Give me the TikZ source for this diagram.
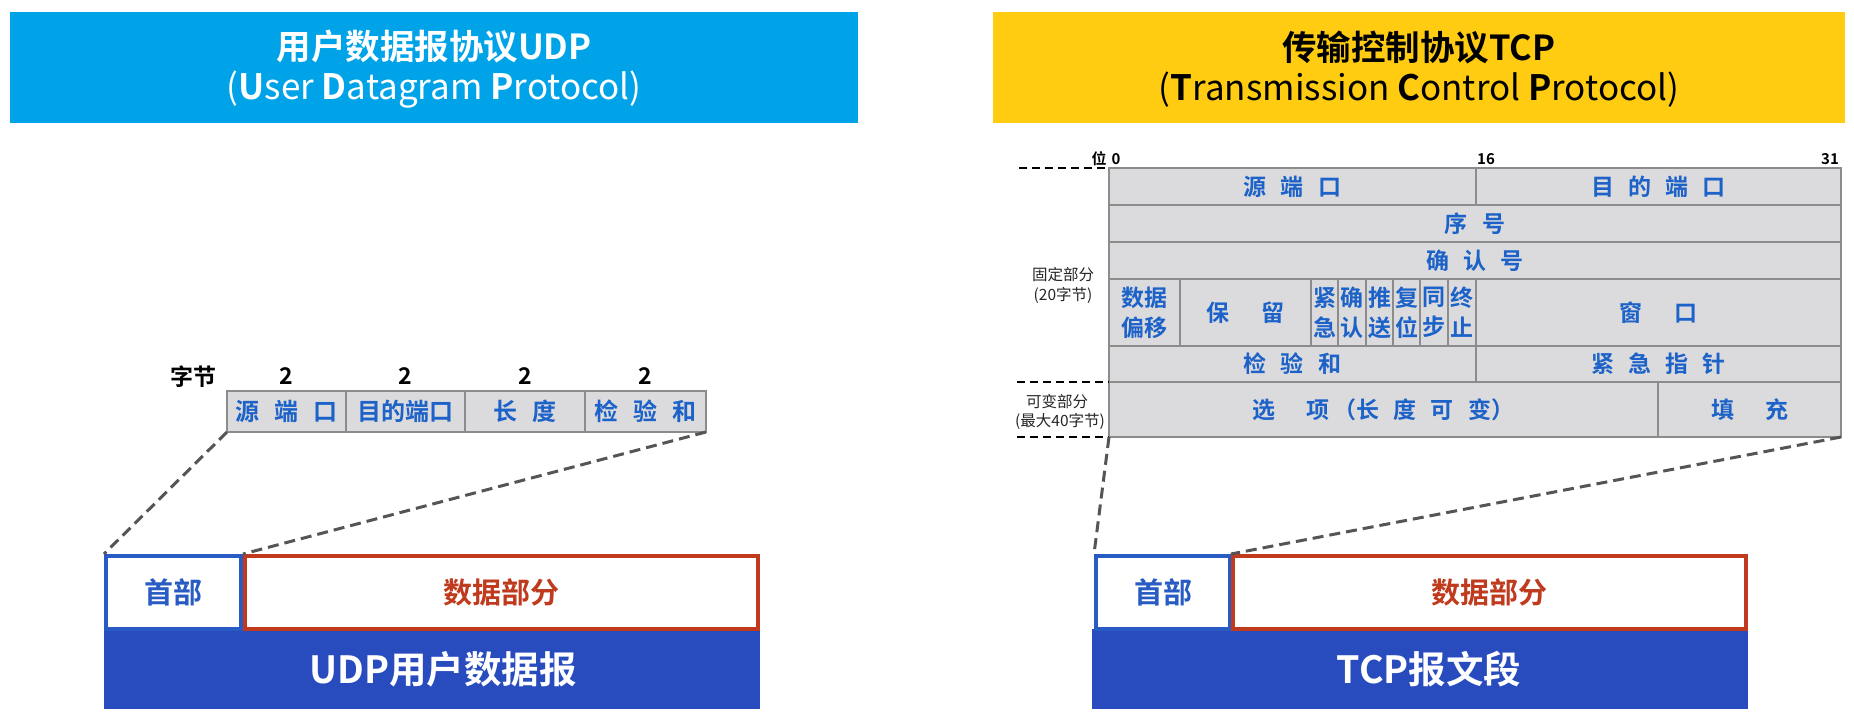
\documentclass[tikz,border=0pt]{standalone}
\usepackage{fontspec}
\setmainfont{Noto Sans CJK SC}[BoldFont={Noto Sans CJK SC Bold}]
\definecolor{titleblue}{RGB}{0,163,232}
\definecolor{titleyellow}{RGB}{255,204,17}
\definecolor{cellfill}{RGB}{219,219,221}
\definecolor{cellline}{RGB}{140,140,140}
\definecolor{cellblue}{RGB}{28,98,200}
\definecolor{barblue}{RGB}{40,76,190}
\definecolor{hdrblue}{RGB}{40,92,196}
\definecolor{datared}{RGB}{192,58,30}
\definecolor{dashgray}{RGB}{85,85,85}
\newcommand{\gp}{\hspace{0.62em}}
\newcommand{\gpp}{\hspace{1.35em}}
\newcommand{\cellbox}[6][]{%
  \pgfmathsetmacro\cw{#5-#3}\pgfmathsetmacro\ch{#6-#4}%
  \pgfmathsetmacro\cx{(#3+#5)/2}\pgfmathsetmacro\cy{(#4+#6)/2}%
  \node[cellst,minimum width=\cw pt,minimum height=\ch pt,#1] (#2) at (\cx,\cy)}
\tikzset{
  cellst/.style={draw=cellline,fill=cellfill,line width=1.4pt,inner sep=0pt,outer sep=0pt,
    text=cellblue,align=center,font=\fontsize{23}{30}\selectfont\bfseries},
  titlebox/.style={inner sep=0pt,outer sep=0pt},
  zoomline/.style={draw=dashgray,line width=3pt,dash pattern=on 11pt off 6pt},
  sideline/.style={draw=black,line width=1.8pt,dash pattern=on 8pt off 5pt},
  smalllbl/.style={inner sep=0pt,text=black!85,font=\fontsize{15.5}{19}\selectfont},
  bitlbl/.style={inner sep=0pt,text=black,font=\fontsize{15}{18}\selectfont\bfseries},
  hdrbox/.style={draw=hdrblue,fill=white,line width=4pt,inner sep=0pt,text=hdrblue,font=\fontsize{29}{34}\selectfont\bfseries},
  databox/.style={draw=datared,fill=white,line width=4pt,inner sep=0pt,text=datared,font=\fontsize{29}{34}\selectfont\bfseries},
  barbox/.style={fill=barblue,inner sep=0pt,text=white,font=\fontsize{37.5}{40}\selectfont\bfseries},
}
\begin{document}
\begin{tikzpicture}[x=1pt,y=-1pt]
\useasboundingbox (0,0) rectangle (1854,721);
\fill[white] (0,0) rectangle (1854,721);

% ---------- titles ----------
\node[titlebox,fill=titleblue,minimum width=848pt,minimum height=111pt] (ut) at (434,67.5) {};
\node[text=white,font=\fontsize{34.5}{40}\selectfont\bfseries] (ut1) at (434,47) {用户数据报协议UDP};
\node[text=white,font=\fontsize{35}{40}\selectfont] (ut2) at (434,90) {(\textbf{U}ser \textbf{D}atagram \textbf{P}rotocol)};

\node[titlebox,fill=titleyellow,minimum width=852pt,minimum height=111pt] (tt) at (1419,67.5) {};
\node[text=black,font=\fontsize{34.5}{40}\selectfont\bfseries] (tt1) at (1419,47) {传输控制协议TCP};
\node[text=black,font=\fontsize{35}{40}\selectfont] (tt2) at (1419,90) {(\textbf{T}ransmission \textbf{C}ontrol \textbf{P}rotocol)};

% ---------- UDP header ----------
\node[inner sep=0pt,font=\fontsize{23}{28}\selectfont\bfseries] (zj) at (193,377) {字节};
\cellbox[font=\fontsize{24}{30}\selectfont\bfseries]{u1}{227}{391}{346}{432}{源\gp 端\gp 口};
\cellbox[font=\fontsize{24}{30}\selectfont\bfseries]{u2}{346}{391}{465}{432}{目的端口};
\cellbox[font=\fontsize{24}{30}\selectfont\bfseries]{u3}{465}{391}{585}{432}{长\gp 度};
\cellbox[font=\fontsize{24}{30}\selectfont\bfseries]{u4}{585}{391}{706}{432}{检\gp 验\gp 和};
\foreach \c in {u1,u2,u3,u4}{
  \node[inner sep=0pt,font=\fontsize{23}{28}\selectfont\bfseries,anchor=center] (n\c) at ([yshift=15pt]\c.north) {2};
}

% ---------- UDP datagram ----------
\node[barbox,minimum width=656pt,minimum height=80pt,anchor=north west] (ub) at (104,629) {};
\node[inner sep=0pt,text=white,font=\fontsize{37.5}{40}\selectfont\bfseries] (ubt) at (443,669) {UDP用户数据报};
\node[hdrbox,minimum width=135pt,minimum height=73pt] (uh) at (173.5,592.5) {首部};
\node[databox,minimum width=513pt,minimum height=73pt] (ud) at (501.5,592.5) {数据部分};
\draw[zoomline] (u1.south west) -- (uh.north west);
\draw[zoomline] (u4.south east) -- (ud.north west);

% ---------- TCP header ----------
\cellbox{t1a}{1109}{168}{1476}{205}{源\gp 端\gp 口};
\cellbox{t1b}{1476}{168}{1841}{205}{目\gp 的\gp 端\gp 口};
\cellbox{t2}{1109}{205}{1841}{242}{序\gp 号};
\cellbox{t3}{1109}{242}{1841}{279}{确\gp 认\gp 号};
\cellbox{t4a}{1109}{279}{1180}{346}{数据\\偏移};
\cellbox{t4b}{1180}{279}{1311}{346}{保\gpp 留};
\cellbox{t4c}{1311}{279}{1338}{346}{紧\\急};
\cellbox{t4d}{1338}{279}{1366}{346}{确\\认};
\cellbox{t4e}{1366}{279}{1393}{346}{推\\送};
\cellbox{t4f}{1393}{279}{1420}{346}{复\\位};
\cellbox{t4g}{1420}{279}{1448}{346}{同\\步};
\cellbox{t4h}{1448}{279}{1476}{346}{终\\止};
\cellbox{t4i}{1476}{279}{1841}{346}{窗\gpp 口};
\cellbox{t5a}{1109}{346}{1476}{382}{检\gp 验\gp 和};
\cellbox{t5b}{1476}{346}{1841}{382}{紧\gp 急\gp 指\gp 针};
\cellbox{t6a}{1109}{382}{1658}{437}{选\gpp 项\hspace{0.15em}（长\gp 度\gp 可\gp 变）};
\cellbox{t6b}{1658}{382}{1841}{437}{填\gpp 充};

\node[bitlbl] (bw) at (1099,159) {位};
\node[bitlbl] (b0) at (1116,159) {0};
\node[bitlbl] (b16) at (1486,159) {16};
\node[bitlbl] (b31) at (1830,159) {31};

\coordinate (s1) at (1019,168);
\coordinate (s2) at (1017,382);
\coordinate (s3) at (1017,437);
\draw[sideline] (s1) -- (t1a.north west);
\draw[sideline] (s2) -- (t6a.north west);
\draw[sideline] (s3) -- (t6a.south west);
\node[smalllbl] (fx1) at (1063,275) {固定部分};
\node[smalllbl] (fx2) at (1063,295) {(20字节)};
\node[smalllbl] (vr1) at (1057,402) {可变部分};
\node[smalllbl] (vr2) at (1060,421) {(最大40字节)};

% ---------- TCP segment ----------
\node[barbox,minimum width=656pt,minimum height=80pt,anchor=north west] (tb) at (1092,629) {};
\node[inner sep=0pt,text=white,font=\fontsize{37.5}{40}\selectfont\bfseries] (tbt) at (1429,669) {TCP报文段};
\node[hdrbox,minimum width=134pt,minimum height=73pt] (th) at (1163,592.5) {首部};
\node[databox,minimum width=513pt,minimum height=73pt] (td) at (1489.5,592.5) {数据部分};
\draw[zoomline] (t6a.south west) -- (th.north west);
\draw[zoomline] (t6b.south east) -- (td.north west);
\end{tikzpicture}
\end{document}
